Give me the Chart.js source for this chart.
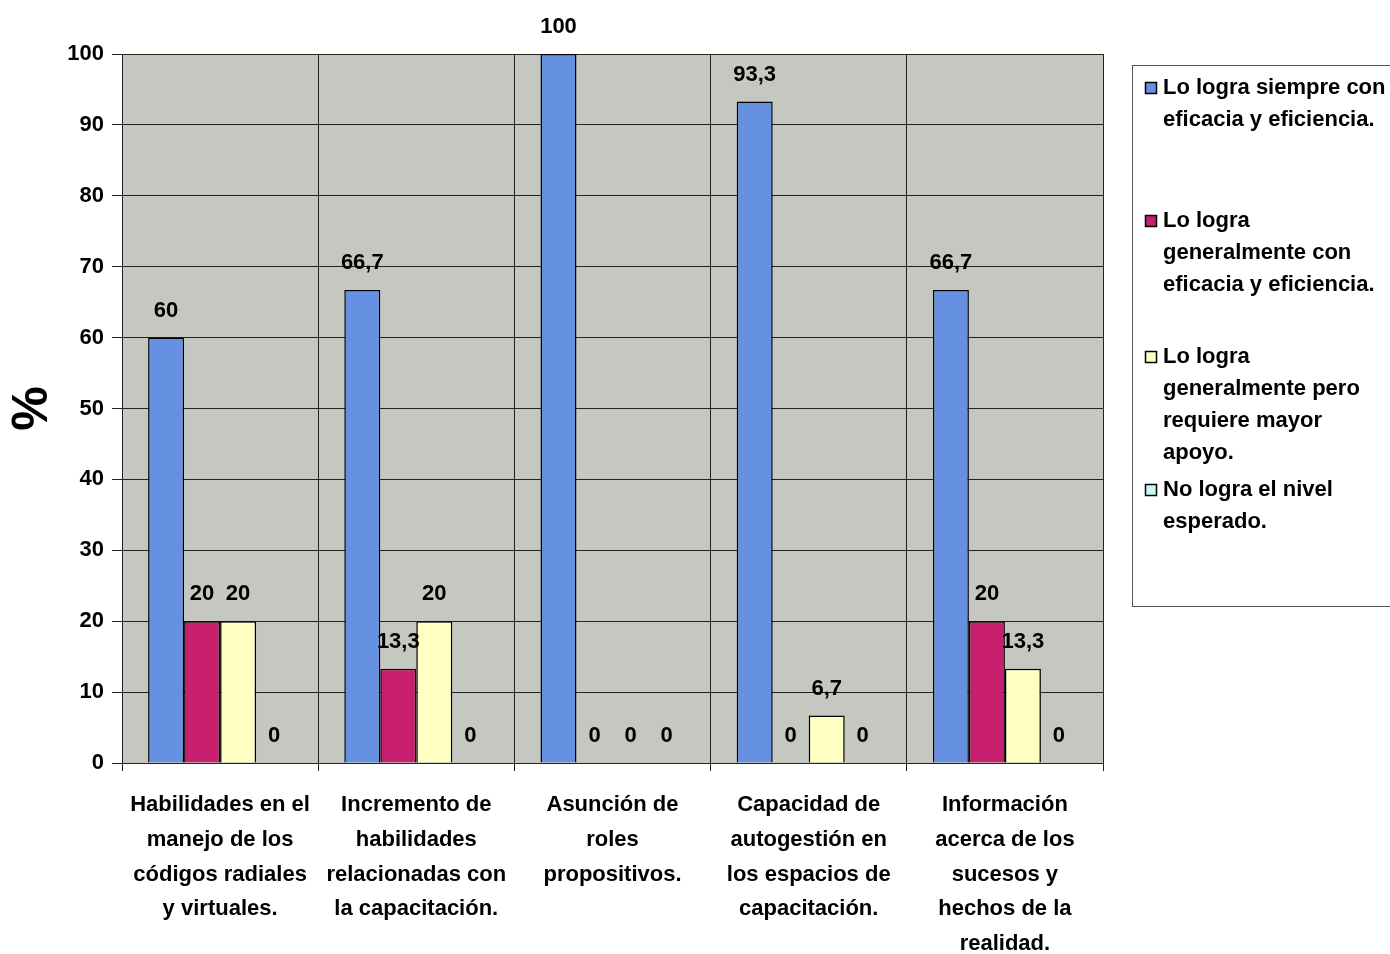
<!DOCTYPE html>
<html>
<head>
<meta charset="utf-8">
<script src="https://cdn.jsdelivr.net/npm/chart.js@4.4.1/dist/chart.umd.min.js"></script>
<style>
html,body{margin:0;padding:0;background:#ffffff;}
#wrap{position:relative;width:1390px;height:954px;}
</style>
</head>
<body>
<div id="wrap"><canvas id="c" width="1390" height="954"></canvas></div>
<script>
const categories = [
  ["Habilidades en el", "manejo de los", "códigos radiales", "y virtuales."],
  ["Incremento de", "habilidades", "relacionadas con", "la capacitación."],
  ["Asunción de", "roles", "propositivos."],
  ["Capacidad de", "autogestión en", "los espacios de", "capacitación."],
  ["Información", "acerca de los", "sucesos y", "hechos de la", "realidad."]
];
const seriesNames = [
  ["Lo logra siempre con", "eficacia y eficiencia."],
  ["Lo logra", "generalmente con", "eficacia y eficiencia."],
  ["Lo logra", "generalmente pero", "requiere mayor", "apoyo."],
  ["No logra el nivel", "esperado."]
];
const siempre      = [60, 66.7, 100, 93.3, 66.7];
const generalmente = [20, 13.3, 0, 0, 20];
const conApoyo     = [20, 20, 0, 6.7, 13.3];
const noLogra      = [0, 0, 0, 0, 0];
const seriesColors = ["#6690e2", "#c8206e", "#ffffc2", "#cbf6f6"];
const yMin = 0, yMax = 100, yStep = 10;
const yTitle = "%";

const FONT = "'Liberation Sans', Arial, sans-serif";

const plotBg = {
  id: 'plotBg',
  beforeDraw(chart) {
    const {ctx, chartArea: a} = chart;
    ctx.save();
    ctx.fillStyle = '#c5c7c1';
    ctx.fillRect(a.left, a.top, a.right - a.left, a.bottom - a.top);
    ctx.restore();
  }
};

const valueLabels = {
  id: 'valueLabels',
  afterDatasetsDraw(chart) {
    const ctx = chart.ctx;
    ctx.save();
    ctx.font = "bold 22px " + FONT;
    ctx.fillStyle = '#000';
    ctx.textAlign = 'center';
    ctx.textBaseline = 'middle';
    chart.data.datasets.forEach((ds, i) => {
      const meta = chart.getDatasetMeta(i);
      meta.data.forEach((bar, j) => {
        const v = ds.data[j];
        ctx.fillText(String(v).replace('.', ','), bar.x, bar.y - 27);
      });
    });
    ctx.restore();
  }
};

const boxLegend = {
  id: 'boxLegend',
  afterDraw(chart) {
    const ctx = chart.ctx;
    ctx.save();
    ctx.strokeStyle = '#555';
    ctx.lineWidth = 1;
    ctx.strokeRect(1132.5, 65.5, 300, 541);
    const starts = [88, 221, 357, 490];
    const lh = 32;
    ctx.font = "bold 22px " + FONT;
    ctx.textBaseline = 'middle';
    ctx.textAlign = 'left';
    chart.data.datasets.forEach((ds, i) => {
      const y0 = starts[i];
      ctx.fillStyle = ds.backgroundColor;
      ctx.fillRect(1145, y0 - 6, 12, 12);
      ctx.strokeStyle = '#000';
      ctx.lineWidth = 1.5;
      ctx.strokeRect(1145.5, y0 - 5.5, 11, 11);
      ctx.fillStyle = '#000';
      ds.label.forEach((line, k) => {
        ctx.fillText(line, 1163, y0 + k * lh);
      });
    });
    ctx.restore();
  }
};

const mk = (i, data) => ({
  label: seriesNames[i],
  data: data,
  backgroundColor: seriesColors[i],
  borderColor: '#000',
  borderWidth: 1.5,
  barPercentage: 1,
  categoryPercentage: 0.734
});

new Chart(document.getElementById('c'), {
  type: 'bar',
  data: {
    labels: categories,
    datasets: [mk(0, siempre), mk(1, generalmente), mk(2, conApoyo), mk(3, noLogra)]
  },
  options: {
    responsive: false,
    animation: false,
    layout: {padding: {left: 0, right: 287, top: 54, bottom: 0}},
    plugins: {legend: {display: false}, tooltip: {enabled: false}},
    scales: {
      x: {
        grid: {color: '#222', lineWidth: 1, tickLength: 8, offset: true, drawOnChartArea: true},
        border: {color: '#222', width: 1},
        ticks: {
          color: '#000', padding: 16, maxRotation: 0, autoSkip: false,
          font: {family: FONT, size: 22, weight: 'bold', lineHeight: 1.59}
        },
        afterFit(s) { s.height = 191; }
      },
      y: {
        min: yMin, max: yMax,
        grid: {color: '#222', lineWidth: 1, tickLength: 10},
        border: {color: '#222', width: 1},
        ticks: {
          stepSize: yStep, color: '#000', padding: 8,
          font: {family: FONT, size: 22, weight: 'bold'}
        },
        title: {
          display: true, text: yTitle, color: '#000', padding: {top: 3, bottom: 0},
          font: {family: FONT, size: 50, weight: 'bold'}
        },
        afterFit(s) { s.width = 122; }
      }
    }
  },
  plugins: [plotBg, valueLabels, boxLegend]
});
</script>
</body>
</html>
